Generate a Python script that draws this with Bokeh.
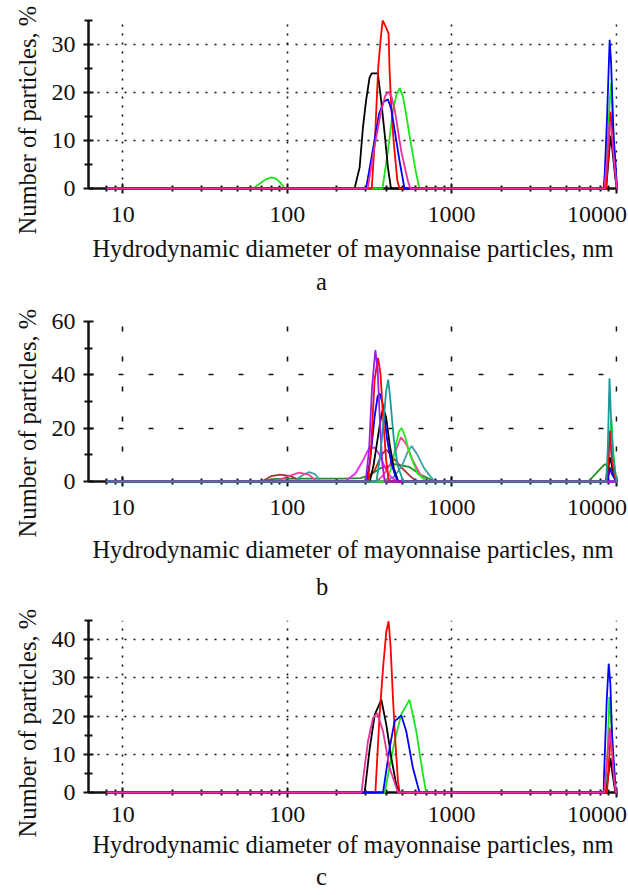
import math
from bokeh.plotting import figure
from bokeh.models import Range1d, FixedTicker, LogAxis, Title
from bokeh.layouts import column
from bokeh.embed import file_html
from bokeh.resources import INLINE

FONT = "Liberation Serif"
TICK_SIZE = "24px"
LABEL_SIZE = "24.5px"
INK = "#111111"

Y_LABEL = "Number of particles, %"
X_LABEL = "Hydrodynamic diameter of mayonnaise particles, nm"

X_START, X_END = 6.2, 10200
X_MAJOR = [10, 100, 1000, 10000]
X_MINOR = [8, 9, 20, 30, 40, 50, 60, 70, 80, 90,
           200, 300, 400, 500, 600, 700, 800, 900,
           2000, 3000, 4000, 5000, 6000, 7000, 8000, 9000]
X_TICK_TEXT = ["10", "100", "1000", "10000"]
LAST_LABEL_SHIFT_PX = -19  # the last tick label is pulled left to stay on the page

# ---------------- panel a ----------------
A_Y_MAJOR = [0, 10, 20, 30]
A_Y_MINOR = [5, 15, 25, 35]
A_YMAX = 35

a_green_nm = [8, 62, 68, 74, 80, 86, 92, 97, 380, 410, 440, 462, 484, 506, 529, 555, 580, 610, 637,
              8600, 8900, 9140, 9330, 9500, 9800, 10100, 10200]
a_green_pct = [0, 0, 1.0, 1.9, 2.3, 2.0, 1.0, 0, 0, 7.8, 16.2, 19.5, 20.9, 19.2, 15.5, 11, 7.2, 3, 0,
               0, 10, 18, 22, 15, 6, 0, 0]
a_black_nm = [8, 257, 276, 289, 302, 317, 327, 356, 373, 392, 410, 428,
              8700, 9000, 9250, 9500, 9900, 10200]
a_black_pct = [0, 0, 4.4, 12.7, 18.3, 23.1, 24, 24, 18.3, 11.3, 4.4, 0,
               0, 6, 11, 8, 2, 0]
a_red_nm = [8, 327, 343, 358, 373, 381, 400, 414, 419, 428, 444, 468, 482,
            8700, 9000, 9250, 9500, 9800, 10100, 10200]
a_red_pct = [0, 0, 11.3, 25.2, 32.2, 35, 33.5, 32.2, 25.2, 18.3, 9.9, 1.6, 0,
             0, 8, 16, 12, 5, 0, 0]
a_blue_nm = [8, 302, 331, 362, 385, 410, 430, 448, 482, 517,
             8400, 8530, 8815, 9015, 9140, 9330, 9460, 9670, 9900, 10140, 10200]
a_blue_pct = [0, 0, 7.8, 15.5, 18, 18.6, 16.5, 12.7, 5.8, 0,
              0, 3, 15, 25, 31, 26, 20, 10.6, 5.8, 0, 0]
a_magenta_nm = [8, 309, 339, 373, 395, 414, 432, 452, 494, 542, 561,
                8500, 8900, 9140, 9400, 9700, 10140, 10200]
a_magenta_pct = [0, 0, 8.5, 16.2, 19.3, 20.2, 19, 16.2, 7.8, 1.6, 0,
                 0, 8, 14, 12, 6, 0, 0]

# ---------------- panel b ----------------
B_Y_MAJOR = [0, 20, 40, 60]
B_Y_MINOR = [10, 30, 50]
B_YMAX = 60

b_darkgreen_nm = [8, 68, 85, 110, 160, 220, 280, 320, 370, 452, 550, 650, 791,
                  6800, 7800, 8550, 9300, 10100, 10200]
b_darkgreen_pct = [0, 0, 1, 1.1, 1.1, 1.1, 1.3, 2.5, 5, 6.5, 5.5, 2.5, 0,
                   0, 4, 6.5, 5, 0, 0]
b_brown_nm = [8, 70, 80, 91, 105, 122, 300, 340, 375, 400, 440, 500, 560, 613, 10200]
b_brown_pct = [0, 0, 2, 2.6, 2, 0, 0, 4, 10, 12, 9, 5, 2, 0, 0]
b_teal2_nm = [8, 110, 125, 136, 148, 160, 400, 450, 500, 540, 572, 620, 680, 740, 791, 10200]
b_teal2_pct = [0, 0, 2.5, 3.5, 2.8, 0, 0, 2, 6, 11, 13.3, 10, 5, 2, 0, 0]
b_magenta_nm = [8, 225, 260, 290, 315, 340, 365, 395, 430, 470, 10200]
b_magenta_pct = [0, 0, 3, 8, 12.5, 12.7, 10, 5, 1.5, 0, 0]
b_pink_nm = [8, 85, 100, 118, 135, 152, 350, 380, 420, 460, 492, 530, 580, 640, 706,
             8600, 8900, 9150, 9400, 9700, 10100, 10200]
b_pink_pct = [0, 0, 1.8, 3.3, 2.6, 0, 0, 2, 6, 12, 16.6, 14, 8, 3, 0,
              0, 5, 16, 9, 3, 0, 0]
b_green_nm = [8, 402, 430, 460, 480, 497, 520, 560, 620, 706,
              8800, 9100, 9330, 9600, 9900, 10200]
b_green_pct = [0, 0, 5, 14, 19, 20, 17, 10, 3, 0,
               0, 12, 24, 12, 3, 0]
b_black_nm = [8, 318, 335, 355, 372, 384, 400, 420, 445, 474,
              8700, 9000, 9200, 9500, 9900, 10200]
b_black_pct = [0, 0, 6, 16, 24, 27.6, 24, 14, 5, 0,
               0, 6, 9, 5, 1, 0]
b_blue_nm = [8, 303, 320, 340, 355, 366, 385, 405, 430, 455, 474,
             8900, 9150, 9400, 9800, 10200]
b_blue_pct = [0, 0, 8, 24, 32, 33, 28, 16, 7, 2, 0,
              0, 5, 3, 1, 0]
b_red_nm = [8, 311, 325, 340, 357, 370, 385, 400, 415,
            8800, 9000, 9200, 9450, 9800, 10200]
b_red_pct = [0, 0, 14, 38, 46.4, 40, 22, 8, 0,
             0, 10, 19, 8, 2, 0]
b_purple_nm = [8, 300, 315, 328, 344, 355, 368, 380, 392, 10200]
b_purple_pct = [0, 0, 12, 35, 49.3, 42, 20, 6, 0, 0]
b_teal_nm = [8, 349, 365, 385, 400, 412, 425, 445, 470, 508,
             8700, 8900, 9120, 9300, 9560, 10060, 10200]
b_teal_pct = [0, 0, 8, 22, 34, 38.2, 30, 16, 6, 0,
              0, 12, 38.7, 25, 10, 0, 0]

# ---------------- panel c ----------------
C_Y_MAJOR = [0, 10, 20, 30, 40]
C_Y_MINOR = [5, 15, 25, 35, 45]
C_YMAX = 45

c_green_nm = [8, 392, 450, 494, 555, 610, 670, 701,
              8600, 8900, 9100, 9350, 9600, 9900, 10200]
c_green_pct = [0, 0, 13.4, 20.4, 24.3, 16, 4.6, 0,
               0, 12, 25, 18, 8, 0, 0]
c_black_nm = [8, 296, 318, 341, 374, 401, 430, 461, 483,
              8700, 9000, 9250, 9500, 9900, 10200]
c_black_pct = [0, 0, 11.6, 20.4, 24.3, 17.7, 9, 2, 0,
               0, 5, 9, 5, 0, 0]
c_red_nm = [8, 344, 365, 383, 401, 414, 426, 440, 455, 472, 483,
            8800, 9050, 9300, 9550, 9900, 10200]
c_red_pct = [0, 0, 20.4, 32.6, 42.2, 44.8, 37.9, 24.7, 13.4, 2.9, 0,
             0, 8, 16, 10, 0, 0]
c_blue_nm = [8, 383, 420, 450, 494, 530, 582, 638,
             8400, 8470, 8770, 9020, 9230, 9450, 9670, 9980, 10200]
c_blue_pct = [0, 0, 11.6, 18.6, 20.2, 16, 6.4, 0,
              0, 5.7, 24, 33.7, 28.4, 15.3, 8.3, 0, 0]
c_magenta_nm = [8, 283, 310, 333, 353, 383, 420, 472,
                8470, 8800, 9150, 9400, 9700, 10000, 10200]
c_magenta_pct = [0, 0, 13.4, 19.5, 20.8, 16, 6.4, 0,
                 0, 8, 17, 12, 4, 0, 0]

PINK = "#ec2d9c"

A_SERIES = [(a_green_nm, a_green_pct, "#19e619"),
            (a_black_nm, a_black_pct, "#000000"),
            (a_red_nm, a_red_pct, "#ff0000"),
            (a_blue_nm, a_blue_pct, "#0000ff"),
            (a_magenta_nm, a_magenta_pct, PINK)]
B_SERIES = [(b_darkgreen_nm, b_darkgreen_pct, "#1f8f1f"),
            (b_brown_nm, b_brown_pct, "#a33333"),
            (b_teal2_nm, b_teal2_pct, "#3aa3a3"),
            (b_magenta_nm, b_magenta_pct, "#f020f0"),
            (b_pink_nm, b_pink_pct, "#ff3d9e"),
            (b_green_nm, b_green_pct, "#22ee22"),
            (b_black_nm, b_black_pct, "#000000"),
            (b_blue_nm, b_blue_pct, "#0000ff"),
            (b_red_nm, b_red_pct, "#ff0000"),
            (b_purple_nm, b_purple_pct, "#9b1cf0"),
            (b_teal_nm, b_teal_pct, "#1c9a9a")]
C_SERIES = [(c_green_nm, c_green_pct, "#19e619"),
            (c_black_nm, c_black_pct, "#000000"),
            (c_red_nm, c_red_pct, "#ff0000"),
            (c_blue_nm, c_blue_pct, "#0000ff"),
            (c_magenta_nm, c_magenta_pct, PINK)]

FRAME_W = 529
LEFT = 88
PX_PER_DECADE = FRAME_W / math.log10(X_END / X_START)


def make_panel(series, ymax, ymajor, yminor, height, top, bottom, grid_dash,
               tick_standoff, xlabel_standoff, letter, letter_standoff, ylab_offset):
    p = figure(x_axis_type="log", x_range=Range1d(X_START, X_END), y_range=Range1d(0, ymax),
               width=628, height=height, min_border_left=LEFT, min_border_right=628 - LEFT - FRAME_W,
               min_border_top=top, min_border_bottom=bottom,
               output_backend="svg", toolbar_location=None, title=None)
    p.background_fill_color = "white"
    p.border_fill_color = "white"
    p.outline_line_color = None

    xax = p.below[0]
    yax = p.left[0]
    xax.ticker = FixedTicker(ticks=X_MAJOR, minor_ticks=X_MINOR)
    yax.ticker = FixedTicker(ticks=ymajor, minor_ticks=yminor)
    p.xgrid.ticker = FixedTicker(ticks=X_MAJOR)
    p.ygrid.ticker = FixedTicker(ticks=ymajor)

    for ax in (xax, yax):
        ax.axis_line_width = 2.5
        ax.axis_line_color = INK
        ax.major_tick_line_color = INK
        ax.minor_tick_line_color = INK
        ax.major_tick_line_width = 2
        ax.minor_tick_line_width = 2
        ax.major_tick_in = 5
        ax.major_tick_out = 5
    xax.minor_tick_in = 3
    xax.minor_tick_out = 3
    yax.minor_tick_in = 4
    yax.minor_tick_out = 4
    yax.major_label_text_font = FONT
    yax.major_label_text_font_size = TICK_SIZE
    yax.major_label_text_color = INK
    yax.major_label_standoff = 8
    # tick marks only on the first x axis; its labels are carried by the axis below
    xax.major_label_overrides = {t: "" for t in X_MAJOR}
    xax.major_label_text_font_size = "1px"
    xax.major_label_standoff = 0

    last_pos = round(X_MAJOR[-1] * 10 ** (LAST_LABEL_SHIFT_PX / PX_PER_DECADE))
    label_pos = X_MAJOR[:-1] + [last_pos]
    lab = LogAxis(ticker=FixedTicker(ticks=label_pos),
                  major_label_overrides=dict(zip(label_pos, X_TICK_TEXT)),
                  axis_line_color=None, major_tick_line_color=None, minor_tick_line_color=None,
                  major_tick_in=0, major_tick_out=0, minor_tick_in=0, minor_tick_out=0,
                  major_label_text_font=FONT, major_label_text_font_size=TICK_SIZE,
                  major_label_text_color=INK, major_label_standoff=tick_standoff,
                  axis_label=X_LABEL, axis_label_text_font=FONT,
                  axis_label_text_font_size=LABEL_SIZE, axis_label_text_font_style="normal",
                  axis_label_text_color=INK, axis_label_standoff=xlabel_standoff)
    p.add_layout(lab, "below")

    p.add_layout(Title(text=letter, align="left", offset=227.5, standoff=letter_standoff,
                       text_font=FONT, text_font_size=LABEL_SIZE, text_font_style="normal",
                       text_color=INK), "below")
    p.add_layout(Title(text=Y_LABEL, align="left", offset=ylab_offset, standoff=15,
                       text_font=FONT, text_font_size=LABEL_SIZE, text_font_style="normal",
                       text_color=INK), "left")

    p.grid.grid_line_color = INK
    p.grid.grid_line_width = 1.6
    p.grid.grid_line_dash = grid_dash

    for xs, ys, col in series:
        p.line(xs, ys, line_color=col, line_width=1.8, level="overlay")
    return p


pa = make_panel(A_SERIES, A_YMAX, A_Y_MAJOR, A_Y_MINOR, 305, 20, 117, "2 7", 13, 10, "a", 3, -46)
pb = make_panel(B_SERIES, B_YMAX, B_Y_MAJOR, B_Y_MINOR, 302, 16, 126, "5 25", 13, 18, "b", 10, -56)
pc = make_panel(C_SERIES, C_YMAX, C_Y_MAJOR, C_Y_MINOR, 288, 13, 103, "2 7", 9, 6, "c", 1, -45)

layout = column(pa, pb, pc)
open("out.html", "w").write(file_html(layout, INLINE))
